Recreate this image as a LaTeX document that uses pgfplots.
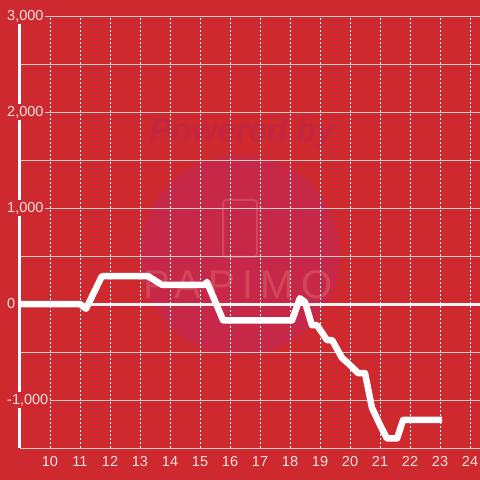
\documentclass[border=0pt]{standalone}
\usepackage{fontspec}
\setmainfont{Liberation Sans}
\usepackage{pgfplots}
\pgfplotsset{compat=1.18}
\definecolor{bg}{RGB}{205,41,46}
\definecolor{wmcirc}{RGB}{200,40,72}
\definecolor{wmtext}{RGB}{196,38,64}
\definecolor{wmlogo}{RGB}{210,70,90}
\definecolor{lbl}{RGB}{246,226,226}
\definecolor{grd}{RGB}{214,204,204}

\begin{document}
\begin{tikzpicture}[x=1pt,y=1pt]
% background and watermark
\fill[bg] (-20,-32) rectangle (460,448);
\fill[wmcirc] (220,193) circle (100);
\node[text=wmtext, font=\fontsize{33}{33}\selectfont\bfseries\itshape] at (222,315) {Powered by};
\draw[wmlogo, line width=2pt, rounded corners=3pt] (203,191) rectangle (237,248);
\node[text=wmlogo, font=\fontsize{40}{40}\selectfont\addfontfeatures{LetterSpace=18}] at (218,163) {PAPIMO};

\begin{axis}[
  at={(0,0)}, anchor=south west,
  scale only axis, width=460pt, height=432pt,
  xmin=9, xmax=24.333, ymin=-1500, ymax=3000,
  axis x line*=bottom, axis y line*=left,
  x axis line style={grd, line width=1pt, -},
  y axis line style={white, line width=3pt, -},
  major tick length=0pt,
  xtick={10,...,24},
  ytick={-1500,-1000,...,3000},
  yticklabels={{},{-1,000},{},{0},{},{1,000},{},{2,000},{},{3,000}},
  xmajorgrids, ymajorgrids,
  major x grid style={white, dash pattern=on 2pt off 2pt, line width=0.8pt},
  major y grid style={grd, line width=1pt},
  tick label style={font=\fontsize{14.5}{16}\selectfont, text=lbl},
  /pgf/number format/assume math mode=true,
  xticklabel style={anchor=north, inner sep=1pt, yshift=-7pt},
  yticklabel style={anchor=west, inner sep=2pt, xshift=-15pt, fill=bg},
]
% zero line
\addplot[white!94!bg, line width=3pt] coordinates {(9,0) (24.333,0)};
% series
\addplot[white, line width=6.5pt, line join=round] coordinates {
 (9.0,0) (11.0,0) (11.2,-50) (11.73,290) (13.27,290) (13.73,200)
 (15.17,200) (15.23,230) (15.77,-170) (18.07,-170) (18.33,60) (18.5,20)
 (18.73,-220) (18.9,-220) (19.23,-375) (19.4,-375) (19.73,-560) (19.93,-615)
 (20.27,-720) (20.5,-720) (20.73,-1080) (21.0,-1260) (21.23,-1400)
 (21.57,-1400) (21.77,-1208) (23.07,-1208)};
\end{axis}
\pgfresetboundingbox
\useasboundingbox (-20,-32) rectangle (460,448);
\end{tikzpicture}
\end{document}
